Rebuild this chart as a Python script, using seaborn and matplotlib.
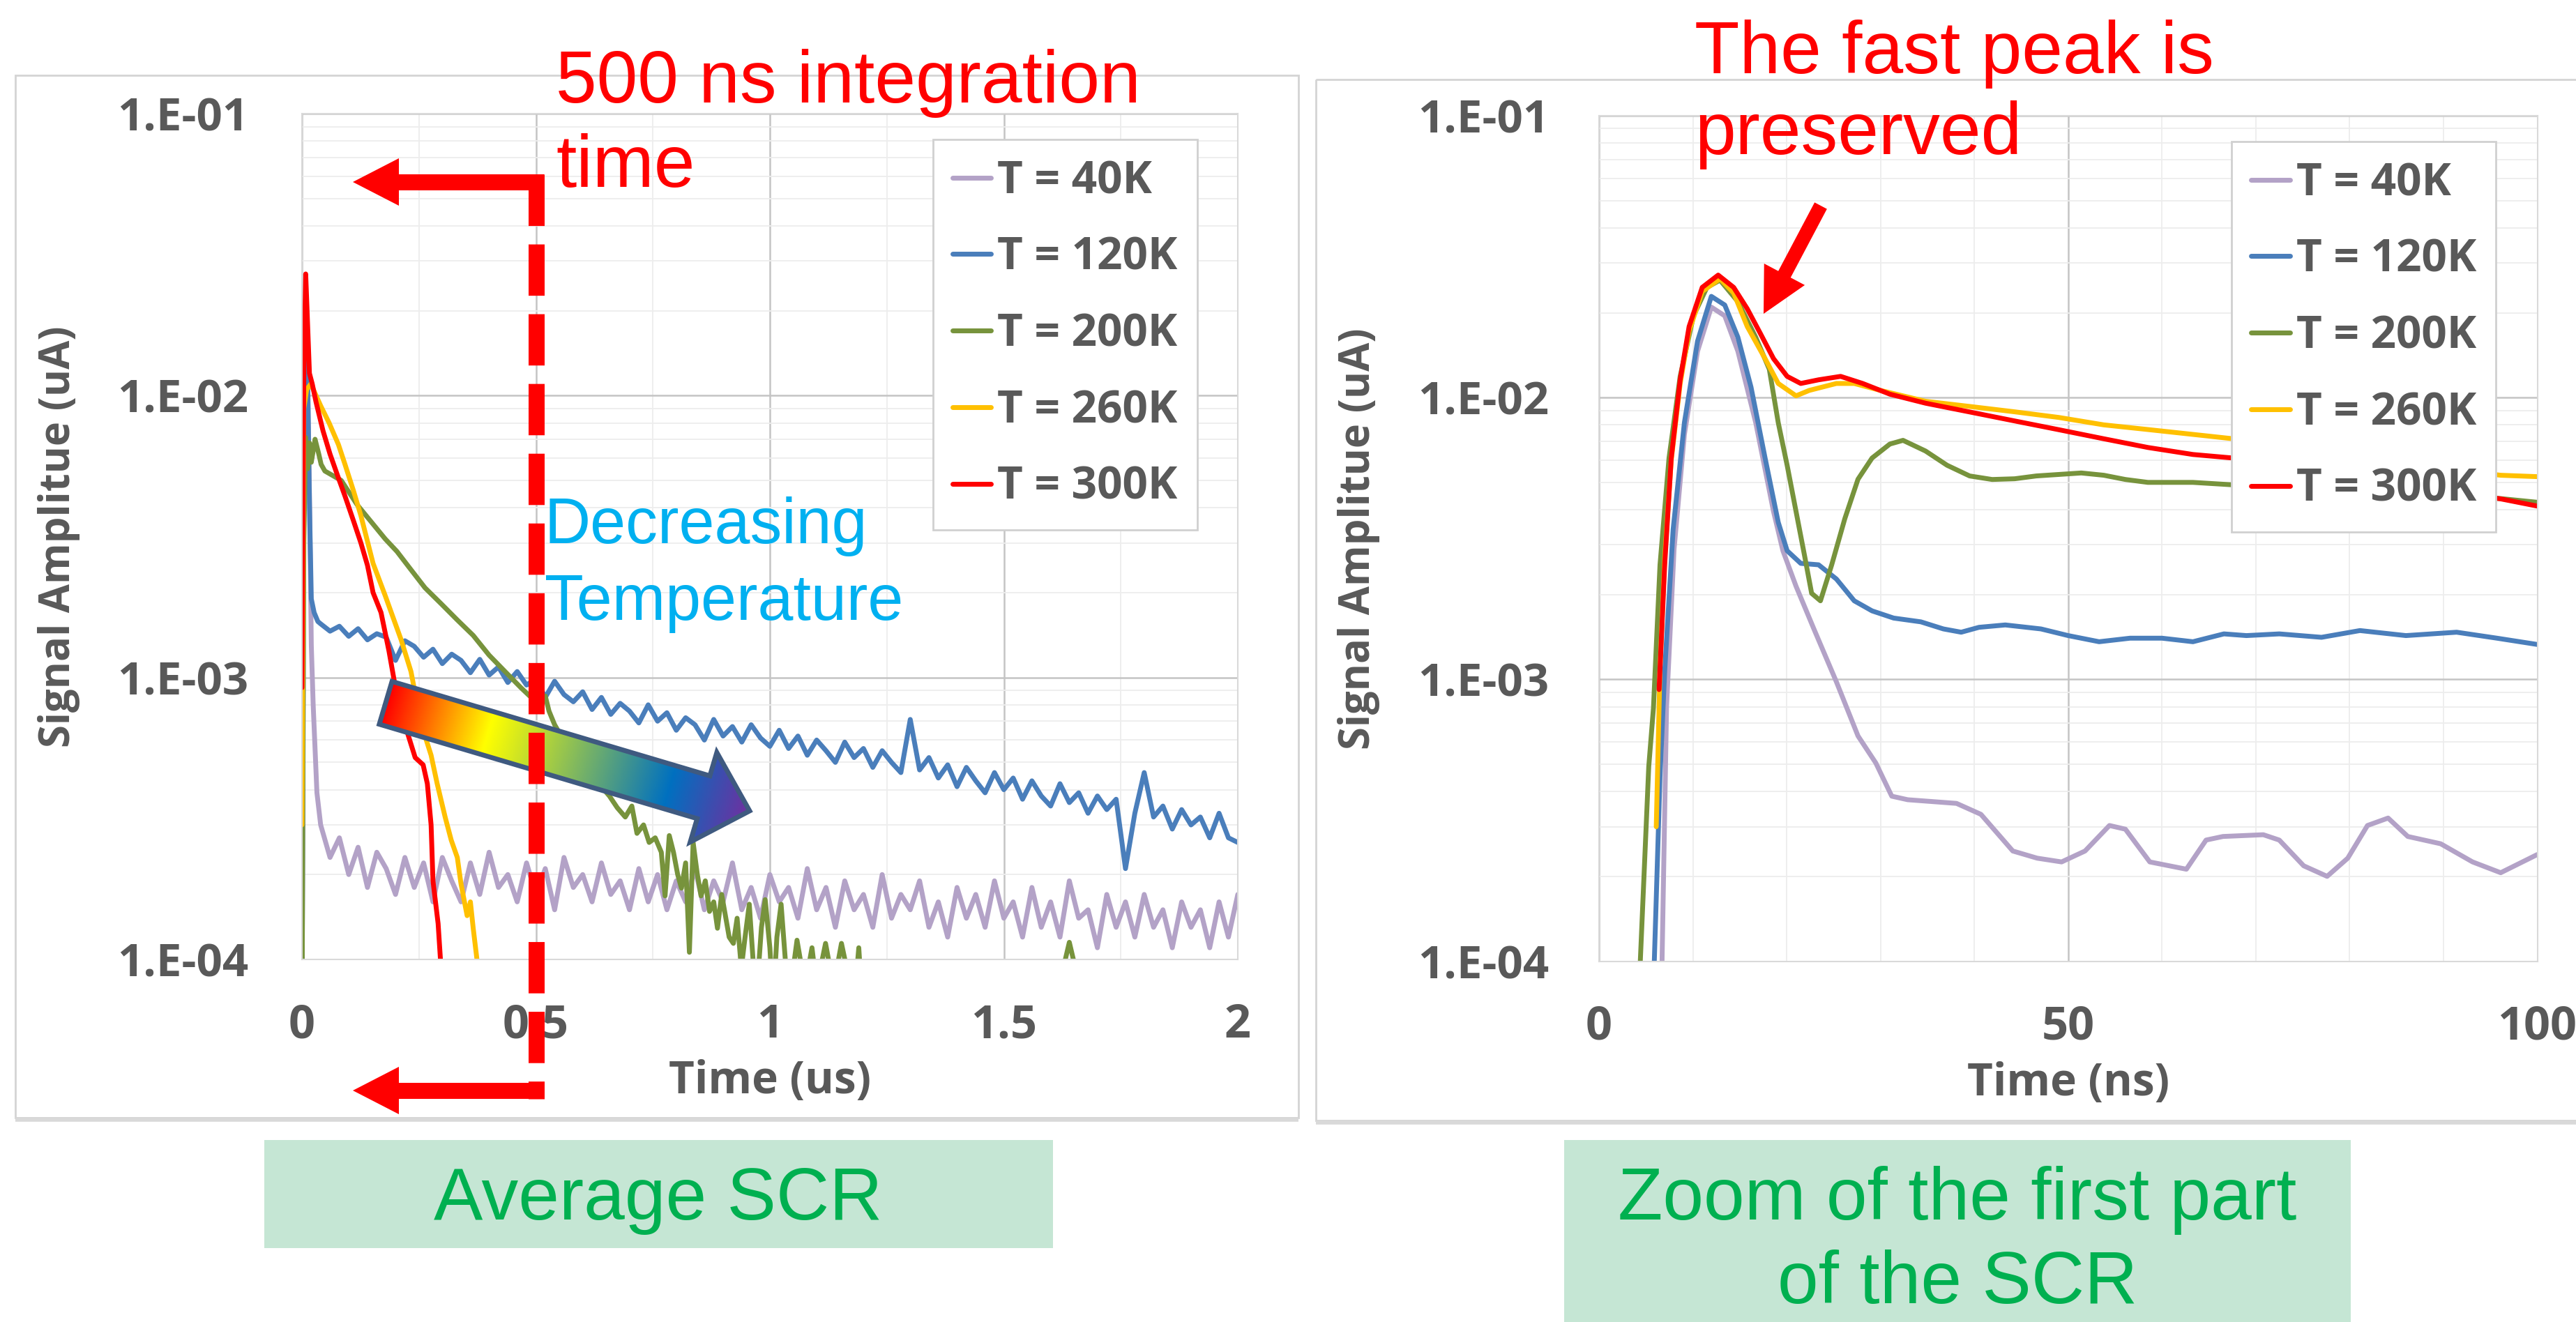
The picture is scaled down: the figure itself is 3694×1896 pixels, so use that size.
import numpy as np
import pandas as pd
import seaborn as sns
import matplotlib
matplotlib.use("Agg")
import matplotlib.pyplot as plt
from matplotlib.patches import Rectangle, Polygon
from matplotlib.colors import LinearSegmentedColormap
from matplotlib.ticker import LogLocator, NullFormatter

# ---------------- data ----------------
series_labels = ["T = 40K", "T = 120K", "T = 200K", "T = 260K", "T = 300K"]
series_colors = ["#B3A2C7", "#4A7EBB", "#77933C", "#FFC000", "#FF0000"]

y_ticks = [1e-4, 1e-3, 1e-2, 1e-1]
y_tick_labels = ["1.E-04", "1.E-03", "1.E-02", "1.E-01"]
x_ticks_left = [0, 0.5, 1, 1.5, 2]
x_tick_labels_left = ["0", "0.5", "1", "1.5", "2"]
x_ticks_right = [0, 50, 100]
x_tick_labels_right = ["0", "50", "100"]

# ---- left panel (time in us) ----
t_tail_us = [0.04, 0.06, 0.08, 0.10, 0.12, 0.14, 0.16, 0.18, 0.20, 0.22,
             0.24, 0.26, 0.28, 0.30, 0.32, 0.34, 0.36, 0.38, 0.40, 0.42,
             0.44, 0.46, 0.48, 0.50, 0.52, 0.54, 0.56, 0.58, 0.60, 0.62,
             0.64, 0.66, 0.68, 0.70, 0.72, 0.74, 0.76, 0.78, 0.80, 0.82,
             0.84, 0.86, 0.88, 0.90, 0.92, 0.94, 0.96, 0.98, 1.00, 1.02,
             1.04, 1.06, 1.08, 1.10, 1.12, 1.14, 1.16, 1.18, 1.20, 1.22,
             1.24, 1.26, 1.28, 1.30, 1.32, 1.34, 1.36, 1.38, 1.40, 1.42,
             1.44, 1.46, 1.48, 1.50, 1.52, 1.54, 1.56, 1.58, 1.60, 1.62,
             1.64, 1.66, 1.68, 1.70, 1.72, 1.74, 1.76, 1.78, 1.80, 1.82,
             1.84, 1.86, 1.88, 1.90, 1.92, 1.94, 1.96, 1.98, 2.00]

t40_head_us = [0.000, 0.004, 0.008, 0.012, 0.016, 0.020, 0.024, 0.032]
a40_head_us = [5e-5, 0.004, 0.019, 0.012, 0.0045, 0.0013, 0.0008, 0.00039]
a40_tail_e4 = [3.0, 2.3, 2.7, 2.0, 2.5, 1.8, 2.4, 2.1, 1.7, 2.3,
               1.8, 2.2, 1.6, 2.3, 1.9, 1.6, 2.2, 1.7, 2.4, 1.8,
               2.0, 1.6, 2.2, 1.7, 2.1, 1.5, 2.3, 1.8, 2.0, 1.6,
               2.2, 1.7, 1.9, 1.5, 2.1, 1.6, 2.0, 1.5, 1.9, 1.6,
               2.1, 1.5, 1.9, 1.6, 2.2, 1.5, 1.8, 1.4, 2.0, 1.6,
               1.8, 1.4, 2.1, 1.5, 1.8, 1.3, 1.9, 1.5, 1.7, 1.3,
               2.0, 1.4, 1.7, 1.5, 1.9, 1.3, 1.6, 1.2, 1.8, 1.4,
               1.7, 1.3, 1.9, 1.4, 1.6, 1.2, 1.8, 1.3, 1.6, 1.2,
               1.9, 1.4, 1.5, 1.1, 1.7, 1.3, 1.6, 1.2, 1.7, 1.3,
               1.5, 1.1, 1.6, 1.3, 1.5, 1.1, 1.6, 1.2, 1.7]

t120_head_us = [0.000, 0.004, 0.008, 0.012, 0.016, 0.020, 0.026, 0.034]
a120_head_us = [5e-5, 0.006, 0.021, 0.012, 0.0042, 0.0019, 0.0017, 0.00158]
a120_tail_e4 = [15.5, 14.6, 15.2, 14.0, 14.9, 13.6, 14.3, 13.9, 11.5, 13.5,
                12.9, 11.8, 12.6, 11.2, 12.1, 11.5, 10.4, 11.6, 10.2, 10.9,
                9.6, 10.5, 9.4, 9.9, 8.5, 9.7, 8.7, 8.2, 8.9, 7.7,
                8.5, 7.4, 8.1, 7.6, 6.9, 8.0, 7.0, 7.5, 6.5, 7.2,
                6.8, 6.0, 7.1, 6.2, 6.7, 5.9, 6.8, 6.1, 5.7, 6.5,
                5.6, 6.2, 5.3, 6.0, 5.5, 5.0, 5.9, 5.2, 5.6, 4.8,
                5.5, 5.0, 4.6, 7.1, 4.7, 5.2, 4.4, 4.9, 4.1, 4.8,
                4.3, 3.9, 4.6, 4.0, 4.4, 3.7, 4.3, 3.8, 3.5, 4.2,
                3.6, 3.9, 3.3, 3.8, 3.4, 3.7, 2.1, 3.3, 4.6, 3.2,
                3.5, 2.9, 3.4, 3.0, 3.2, 2.7, 3.3, 2.7, 2.6]

t200_us = [0.000, 0.004, 0.008, 0.012, 0.016, 0.020, 0.028, 0.036, 0.041, 0.049,
           0.084, 0.118, 0.152, 0.178, 0.203, 0.229, 0.263, 0.297, 0.332, 0.366,
           0.400, 0.434, 0.468, 0.503, 0.520, 0.528, 0.540, 0.554, 0.570, 0.588,
           0.605, 0.622, 0.640, 0.657, 0.674, 0.691, 0.705, 0.716, 0.730, 0.742,
           0.755, 0.768, 0.776, 0.785, 0.794, 0.803, 0.811, 0.820, 0.828, 0.836,
           0.845, 0.853, 0.862, 0.871, 0.880, 0.888, 0.897, 0.905, 0.913, 0.922,
           0.930, 0.939, 0.947, 0.956, 0.964, 0.973, 0.982, 0.990, 1.000, 1.007,
           1.015, 1.024, 1.032, 1.040, 1.058, 1.075, 1.090, 1.100, 1.119, 1.136,
           1.153, 1.180, 1.190, 1.200, 1.30, 1.60, 1.64, 1.68, 2.00]
a200_us = [5e-5, 3.0e-3, 7.1e-3, 5.5e-3, 6.8e-3, 5.8e-3, 7.0e-3, 6.2e-3, 5.7e-3, 5.4e-3,
           5.0e-3, 4.1e-3, 3.5e-3, 3.1e-3, 2.8e-3, 2.46e-3, 2.08e-3, 1.83e-3, 1.60e-3, 1.41e-3,
           1.20e-3, 1.05e-3, 9.2e-4, 8.1e-4, 8.6e-4, 7.6e-4, 6.8e-4, 6.2e-4, 5.8e-4, 5.3e-4,
           4.9e-4, 4.5e-4, 4.1e-4, 3.8e-4, 3.45e-4, 3.2e-4, 3.5e-4, 2.8e-4, 3.0e-4, 2.6e-4,
           2.7e-4, 2.4e-4, 1.68e-4, 2.75e-4, 2.4e-4, 2.0e-4, 1.79e-4, 2.2e-4, 1.06e-4, 2.6e-4,
           2.0e-4, 1.68e-4, 1.9e-4, 1.48e-4, 1.6e-4, 1.29e-4, 1.7e-4, 1.43e-4, 1.2e-4, 1.14e-4,
           1.4e-4, 9.3e-5, 1.2e-4, 1.57e-4, 1.0e-4, 8e-5, 1.3e-4, 1.63e-4, 1.1e-4, 7e-5,
           1.2e-4, 1.57e-4, 1.05e-4, 7e-5, 1.17e-4, 8e-5, 1.1e-4, 8e-5, 1.14e-4, 8e-5,
           1.14e-4, 7e-5, 1.1e-4, 6e-5, 5e-5, 6e-5, 1.15e-4, 6e-5, 5e-5]

t260_us = [0.000, 0.004, 0.010, 0.019, 0.040, 0.058, 0.078, 0.092, 0.110, 0.126,
           0.152, 0.178, 0.212, 0.233, 0.246, 0.263, 0.276, 0.289, 0.306, 0.319,
           0.332, 0.340, 0.353, 0.360, 0.366, 0.374, 0.380]
a260_us = [0.0003, 0.009, 0.0105, 0.011, 0.0092, 0.008, 0.0067, 0.0057, 0.0046, 0.00375,
           0.00254, 0.00195, 0.00136, 0.00105, 0.00081, 0.00062, 0.00053, 0.00042, 0.00032, 0.000265,
           0.00023, 0.000185, 0.000143, 0.00016, 0.000129, 0.0001, 0.00008]

t300_us = [0.000, 0.004, 0.008, 0.012, 0.016, 0.022, 0.030, 0.045, 0.060, 0.078,
           0.092, 0.110, 0.126, 0.140, 0.152, 0.169, 0.186, 0.203, 0.225, 0.242,
           0.259, 0.268, 0.276, 0.280, 0.291, 0.296, 0.300]
a300_us = [0.00092, 0.012, 0.027, 0.018, 0.012, 0.011, 0.0095, 0.0075, 0.0062, 0.0051,
           0.0044, 0.0036, 0.0030, 0.0025, 0.0020, 0.0017, 0.00124, 0.00086, 0.00064, 0.00052,
           0.00049, 0.00042, 0.0003, 0.00019, 0.000134, 0.0001, 0.00008]

# ---- right panel (time in ns) ----
t40_ns = [6.6, 7.2, 8.0, 9.1, 10.5, 11.97, 13.4, 14.8, 16.7, 18.6,
          19.6, 21.0, 22.9, 25.3, 27.6, 29.5, 31.2, 32.9, 38.1, 40.7,
          44.1, 46.7, 49.3, 51.8, 54.4, 56.1, 58.7, 62.6, 64.7, 66.5,
          70.8, 72.5, 75.1, 77.6, 79.8, 81.9, 84.1, 86.2, 89.7, 93.1,
          96.1, 100]
a40_ns = [0.00006, 0.0008, 0.0029, 0.0074, 0.0146, 0.02094, 0.0195, 0.0146, 0.00815, 0.00394,
          0.00286, 0.00214, 0.00151, 0.00098, 0.00063, 0.000505, 0.000385, 0.000374, 0.000363, 0.000332,
          0.000246, 0.000232, 0.000225, 0.000246, 0.000303, 0.000294, 0.000225, 0.000212, 0.000269, 0.000277,
          0.000281, 0.000269, 0.000218, 0.0002, 0.000232, 0.000303, 0.000322, 0.000277, 0.000261, 0.000225,
          0.000206, 0.000239]

t120_ns = [5.85, 6.5, 7.0, 7.9, 9.1, 10.5, 11.97, 13.4, 14.8, 16.2,
           17.7, 19.1, 20.05, 21.5, 23.4, 25.3, 27.2, 29.1, 31.4, 34.3,
           36.7, 38.6, 40.5, 43.3, 47.1, 50.0, 53.3, 56.6, 60.0, 63.3,
           66.6, 69.0, 72.5, 77, 81.1, 86, 91.4, 95.7, 100]
a120_ns = [0.00009, 0.00045, 0.00107, 0.00341, 0.00815, 0.01585, 0.02286, 0.0213, 0.01637, 0.01089,
           0.0061, 0.00361, 0.00286, 0.00258, 0.00255, 0.00227, 0.0019, 0.00175, 0.00165, 0.0016,
           0.00151, 0.00147, 0.00153, 0.00156, 0.00151, 0.00143, 0.00136, 0.0014, 0.0014, 0.00136,
           0.00145, 0.00143, 0.00145, 0.00141, 0.00149, 0.00143, 0.00147, 0.0014, 0.00133]

t200_ns = [4.4, 5.3, 5.8, 6.5, 7.46, 8.65, 10.07, 11.5, 12.9, 14.8,
           16.7, 18.15, 19.1, 20.05, 21.0, 21.95, 22.66, 23.6, 24.8, 26.2,
           27.6, 29.1, 31.0, 32.4, 34.8, 37.1, 39.5, 41.9, 44.3, 46.6,
           51.4, 53.8, 56.1, 58.5, 63.3, 67.6, 75, 82, 90, 96.1, 100]
a200_ns = [0.0001, 0.00049, 0.00079, 0.00255, 0.0061, 0.0119, 0.0195, 0.0246, 0.0261, 0.0219,
           0.01637, 0.0126, 0.00815, 0.00575, 0.00394, 0.0027, 0.00202, 0.0019, 0.00255, 0.00372,
           0.00513, 0.0061, 0.00684, 0.00705, 0.00646, 0.00575, 0.00527, 0.00512, 0.00515, 0.00527,
           0.0054, 0.0053, 0.00512, 0.005, 0.005, 0.0049, 0.0047, 0.0046, 0.0045, 0.00438, 0.00425]

t260_ns = [6.1, 6.5, 7.0, 7.7, 8.65, 9.6, 11.0, 12.9, 14.35, 15.8,
           17.7, 19.1, 21.0, 22.4, 25.3, 27.2, 30.0, 34.8, 39.5, 44.3,
           49.0, 53.8, 58.5, 63.3, 67.6, 75, 82, 90, 96.1, 100]
a260_ns = [0.0003, 0.0011, 0.0027, 0.0060, 0.0112, 0.0172, 0.0238, 0.0264, 0.0235, 0.01786,
           0.01374, 0.01122, 0.01014, 0.0106, 0.01122, 0.01122, 0.0106, 0.0097, 0.0093, 0.0089,
           0.0085, 0.0080, 0.0077, 0.0074, 0.00714, 0.00646, 0.0060, 0.0056, 0.0053, 0.00524]

t300_ns = [6.4, 7.0, 7.7, 8.65, 9.6, 11.0, 12.7, 14.35, 15.8, 17.2,
           18.6, 20.05, 21.5, 23.4, 25.75, 28.1, 31.0, 34.8, 39.5, 44.3,
           49.0, 53.8, 58.5, 63.3, 67.6, 75.0, 82.0, 90.0, 96.1, 100.0]
a300_ns = [0.00092, 0.00255, 0.0061, 0.01156, 0.01786, 0.0246, 0.0272, 0.0246, 0.02065, 0.01687,
           0.01374, 0.01189, 0.01122, 0.01156, 0.01189, 0.01122, 0.01028, 0.00955, 0.00889, 0.00826,
           0.00769, 0.00714, 0.00665, 0.00628, 0.0061, 0.00556, 0.00513, 0.00468, 0.00437, 0.00412]

# ---------------- assemble long tables ----------------
def long_table(pairs):
    frames = []
    for lab, (t, a) in zip(series_labels, pairs):
        frames.append(pd.DataFrame({"t": np.asarray(t, float), "a": np.asarray(a, float), "series": lab}))
    return pd.concat(frames, ignore_index=True)

left_df = long_table([
    (t40_head_us + t_tail_us, a40_head_us + [v * 1e-4 for v in a40_tail_e4]),
    (t120_head_us + t_tail_us, a120_head_us + [v * 1e-4 for v in a120_tail_e4]),
    (t200_us, a200_us),
    (t260_us, a260_us),
    (t300_us, a300_us),
])
right_df = long_table([
    (t40_ns, a40_ns), (t120_ns, a120_ns), (t200_ns, a200_ns),
    (t260_ns, a260_ns), (t300_ns, a300_ns),
])

# ---------------- figure ----------------
sns.set_theme(style="white")
plt.rcParams['font.family'] = ['Open Sans', 'DejaVu Sans']

W, H = 3694, 1896
fig = plt.figure(figsize=(W / 100, H / 100), dpi=100)
fig.patch.set_facecolor("white")

bg = fig.add_axes([0, 0, 1, 1], zorder=0)
bg.set_xlim(0, W); bg.set_ylim(H, 0); bg.axis("off")

# panel frames
for (x0, y0, x1, y1) in [(22, 108, 1862, 1603), (1887, 114, 3700, 1607)]:
    bg.add_patch(Rectangle((x0, y0), x1 - x0, y1 - y0, fill=False, edgecolor="#D4D4D4", lw=2))
    bg.plot([x0, x1], [y1 + 3, y1 + 3], color="#D9D9D9", lw=4, solid_capstyle="butt")

# green caption boxes
bg.add_patch(Rectangle((379, 1635), 1131, 155, facecolor="#C5E6D4", edgecolor="none"))
bg.add_patch(Rectangle((2243, 1635), 1128, 270, facecolor="#C5E6D4", edgecolor="none"))
cap_kw = dict(color="#00B050", fontsize=76, family=["Liberation Sans", "DejaVu Sans"],
              ha="center", va="baseline")
bg.text(944, 1749, "Average SCR", **cap_kw)
bg.text(2807, 1749, "Zoom of the first part", **cap_kw)
bg.text(2807, 1869, "of the SCR", **cap_kw)

axL = fig.add_axes([433 / W, 1 - 1376 / H, (1775 - 433) / W, (1376 - 163) / H], zorder=2)
axR = fig.add_axes([2293 / W, 1 - 1378.5 / H, (3638.5 - 2293) / W, (1378.5 - 166) / H], zorder=2)

palette = dict(zip(series_labels, series_colors))
tick_col = "#595959"
bold_fam = ["Open Sans", "DejaVu Sans"]

def draw_panel(ax, df, xlim, xticks, xticklabels, xminor, xlabel, ylab_x, ypad):
    sns.lineplot(data=df, x="t", y="a", hue="series", hue_order=series_labels,
                 palette=palette, estimator=None, sort=False, linewidth=5,
                 legend=False, ax=ax)
    ax.set_yscale("log")
    ax.set_ylim(1e-4, 1e-1)
    ax.set_xlim(*xlim)
    ax.set_yticks(y_ticks)
    ax.set_yticklabels(y_tick_labels, fontsize=47, fontweight="bold", color=tick_col, family=bold_fam)
    ax.yaxis.set_minor_locator(LogLocator(base=10, subs=[2, 3, 4, 5, 6, 7, 8, 9]))
    ax.yaxis.set_minor_formatter(NullFormatter())
    ax.set_xticks(xticks)
    ax.set_xticklabels(xticklabels, fontsize=48, fontweight="bold", color=tick_col, family=bold_fam)
    ax.set_xticks(xminor, minor=True)
    ax.tick_params(axis="both", which="both", length=0)
    ax.tick_params(axis="y", pad=ypad)
    ax.tick_params(axis="x", pad=44)
    ax.grid(True, which="major", color="#C4C4C4", lw=1.8)
    ax.grid(True, which="minor", color="#EDEDED", lw=1.3)
    ax.set_axisbelow(True)
    for s in ax.spines.values():
        s.set_color("#D9D9D9"); s.set_linewidth(1.5)
    ax.set_xlabel(xlabel, fontsize=46, fontweight="bold", color=tick_col, family=bold_fam)
    ax.set_ylabel("Signal Amplitue (uA)", fontsize=43, fontweight="bold", color=tick_col, family=bold_fam)
    ax.xaxis.set_label_coords(0.5, -0.118)
    ax.yaxis.set_label_coords(ylab_x, 0.5)
    leg = ax.legend(handles=ax.lines[:5], labels=series_labels, loc="upper left",
                    bbox_to_anchor=(0.674, 0.9695), frameon=True, fancybox=False,
                    edgecolor="#D0D0D0", framealpha=1, facecolor="white",
                    prop={"family": bold_fam, "weight": "bold", "size": 46},
                    labelcolor=tick_col, handlelength=0.87, handletextpad=0.14,
                    labelspacing=0.7, borderpad=0.44, borderaxespad=0)
    leg.get_frame().set_linewidth(2)
    for ln in leg.get_lines():
        ln.set_linewidth(5)

draw_panel(axL, left_df, (0, 2), x_ticks_left, x_tick_labels_left,
           [0.25, 0.75, 1.25, 1.75], "Time (us)", -0.237, 55)
draw_panel(axR, right_df, (0, 100), x_ticks_right, x_tick_labels_right,
           [10, 20, 30, 40, 60, 70, 80, 90], "Time (ns)", -0.233, 52)

# ---------------- overlay annotations ----------------
ov = fig.add_axes([0, 0, 1, 1], zorder=5)
ov.set_xlim(0, W); ov.set_ylim(H, 0); ov.axis("off")
ov.patch.set_alpha(0)

# gradient arrow
C0 = np.array([553.0, 1008.0]); tip = np.array([1075.0, 1163.0])
L = np.linalg.norm(tip - C0); u = (tip - C0) / L; n = np.array([-u[1], u[0]])
hw, hh, hl = 32, 67, 69
base = C0 + (L - hl) * u
pts = np.array([C0 - hw * n, base - hw * n, base - hh * n, tip,
                base + hh * n, base + hw * n, C0 + hw * n])
grad = LinearSegmentedColormap.from_list(
    "rb", [(0.0, "#FF0000"), (0.28, "#FFFF00"), (0.78, "#0070C0"), (1.0, "#7030A0")])
xmin, ymin = pts.min(axis=0) - 5; xmax, ymax = pts.max(axis=0) + 5
gx = np.linspace(xmin, xmax, 500); gy = np.linspace(ymin, ymax, 250)
GX, GY = np.meshgrid(gx, gy)
S = np.clip(((GX - C0[0]) * u[0] + (GY - C0[1]) * u[1]) / L, 0, 1)
im = ov.imshow(grad(S), extent=[xmin, xmax, ymax, ymin], origin="upper",
               aspect="auto", zorder=6, interpolation="bilinear")
arrow_patch = Polygon(pts, closed=True, facecolor="none", edgecolor="#3F5A80",
                      lw=5, joinstyle="miter", zorder=7)
ov.add_patch(arrow_patch)
im.set_clip_path(arrow_patch)
ov.set_xlim(0, W); ov.set_ylim(H, 0)

# red integration bracket
red_lw = 23 * 0.72
ov.plot([768.5, 768.5], [250, 1576], color="#FF0000", lw=red_lw, dashes=(3.2, 1.15),
        dash_capstyle="butt", solid_capstyle="butt", zorder=8)
for yb in (261, 1564):
    ov.plot([566, 780], [yb, yb], color="#FF0000", lw=red_lw, solid_capstyle="butt", zorder=8)
    ov.add_patch(Polygon([(506, yb), (572, yb - 34), (572, yb + 34)], closed=True,
                         facecolor="#FF0000", edgecolor="none", zorder=8))

# right red arrow
S0 = np.array([2611.0, 295.0]); T0 = np.array([2529.0, 450.0])
L2 = np.linalg.norm(T0 - S0); u2 = (T0 - S0) / L2; n2 = np.array([-u2[1], u2[0]])
b2 = S0 + (L2 - 64) * u2
pts2 = [S0 - 10 * n2, b2 - 10 * n2, b2 - 33 * n2, T0, b2 + 33 * n2, b2 + 10 * n2, S0 + 10 * n2]
ov.add_patch(Polygon(pts2, closed=True, facecolor="#FF0000", edgecolor="none", zorder=8))

txt_fam = ["Liberation Sans", "DejaVu Sans"]
ov.text(797, 147, "500 ns integration", color="#FF0000", fontsize=76, family=txt_fam, va="baseline", zorder=9)
ov.text(797, 268, "time", color="#FF0000", fontsize=76, family=txt_fam, va="baseline", zorder=9)
ov.text(781, 779, "Decreasing", color="#00B0F0", fontsize=66, family=txt_fam, va="baseline", zorder=9)
ov.text(781, 889, "Temperature", color="#00B0F0", fontsize=66, family=txt_fam, va="baseline", zorder=9)
ov.text(2430, 105, "The fast peak is", color="#FF0000", fontsize=76, family=txt_fam, va="baseline", zorder=9)
ov.text(2430, 221, "preserved", color="#FF0000", fontsize=76, family=txt_fam, va="baseline", zorder=9)

fig.savefig("out.png", dpi=100, facecolor="white")
